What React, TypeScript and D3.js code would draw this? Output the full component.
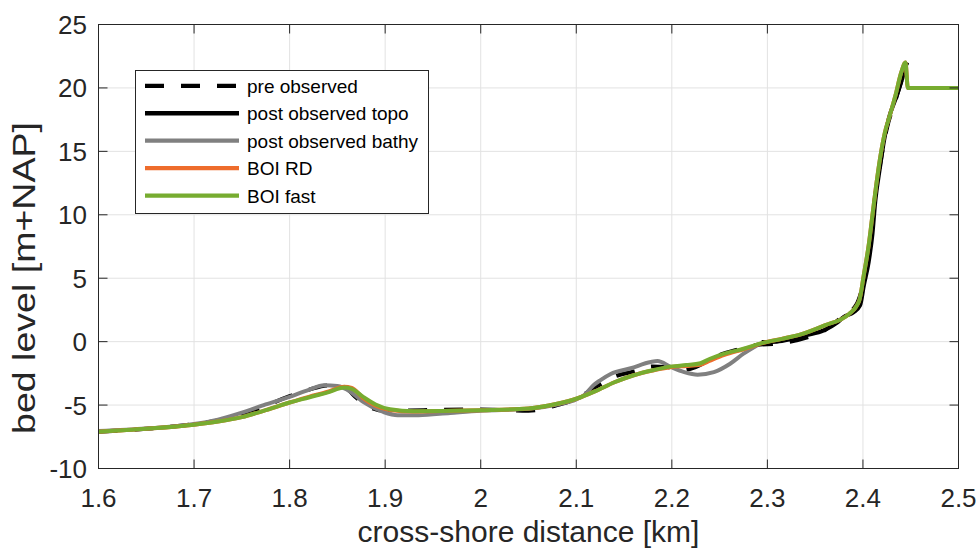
import React from "react";
import * as d3 from "d3";

// ---- data ----
const xTicks = [1.6, 1.7, 1.8, 1.9, 2.0, 2.1, 2.2, 2.3, 2.4, 2.5];
const yTicks = [-10, -5, 0, 5, 10, 15, 20, 25];

const distModel = [1.6, 1.65, 1.7, 1.725, 1.75, 1.775, 1.8, 1.82, 1.84, 1.857, 1.865, 1.877, 1.89, 1.905, 1.93, 1.97, 2.0, 2.05, 2.08, 2.1, 2.12, 2.14, 2.16, 2.18, 2.2, 2.215, 2.23, 2.24, 2.255, 2.275, 2.295, 2.315, 2.335, 2.36, 2.385, 2.396, 2.401, 2.406, 2.41, 2.414, 2.418, 2.423, 2.428, 2.434, 2.44, 2.4445, 2.447, 2.5];
const boiFast = [-7.1, -6.87, -6.55, -6.3, -5.95, -5.4, -4.8, -4.4, -4.0, -3.62, -3.72, -4.36, -4.95, -5.33, -5.48, -5.45, -5.4, -5.27, -4.9, -4.5, -3.9, -3.2, -2.65, -2.25, -1.95, -1.85, -1.7, -1.35, -0.95, -0.56, -0.1, 0.22, 0.57, 1.28, 2.15, 3.2, 5.3, 7.6, 10.0, 12.4, 14.5, 16.5, 17.8, 19.4, 21.2, 22.0, 20.0, 20.0];
const boiRD = [-7.1, -6.87, -6.55, -6.3, -5.95, -5.4, -4.8, -4.35, -3.95, -3.55, -3.65, -4.45, -5.05, -5.38, -5.5, -5.45, -5.4, -5.27, -4.9, -4.5, -3.9, -3.2, -2.65, -2.28, -2.0, -1.92, -1.82, -1.5, -1.05, -0.6, -0.12, 0.22, 0.57, 1.28, 2.15, 3.2, 5.3, 7.6, 10.0, 12.4, 14.5, 16.5, 17.8, 19.4, 21.2, 22.0, 20.0, 20.0];

const distBathy = [1.6, 1.65, 1.7, 1.725, 1.75, 1.775, 1.8, 1.82, 1.836, 1.85, 1.864, 1.877, 1.898, 1.913, 1.935, 1.968, 2.0, 2.05, 2.08, 2.1, 2.108, 2.118, 2.125, 2.136, 2.157, 2.178, 2.185, 2.199, 2.213, 2.227, 2.244, 2.261, 2.275, 2.289];
const postBathy = [-7.05, -6.85, -6.5, -6.15, -5.6, -4.95, -4.35, -3.8, -3.44, -3.5, -3.97, -4.75, -5.54, -5.8, -5.8, -5.62, -5.45, -5.3, -4.95, -4.55, -4.23, -3.44, -3.05, -2.55, -2.1, -1.6, -1.53, -2.0, -2.4, -2.6, -2.4, -1.74, -0.95, -0.3];

const distPre = [1.6, 1.65, 1.7, 1.75, 1.8, 1.82, 1.84, 1.857, 1.868, 1.88, 1.9, 1.94, 2.0, 2.05, 2.08, 2.1, 2.12, 2.14, 2.16, 2.18, 2.195, 2.21, 2.225, 2.245, 2.27, 2.29, 2.31, 2.34, 2.36, 2.38, 2.393, 2.4, 2.406, 2.412, 2.418, 2.425, 2.434, 2.442, 2.446];
const preObserved = [-7.1, -6.87, -6.5, -5.8, -4.3, -3.8, -3.45, -3.55, -4.3, -5.0, -5.45, -5.4, -5.35, -5.45, -5.0, -4.5, -3.6, -2.75, -2.35, -1.95, -2.0, -2.26, -2.0, -1.2, -0.6, -0.25, -0.16, 0.3, 0.9, 2.07, 2.9, 4.5, 7.0, 11.0, 14.0, 16.8, 19.0, 21.0, 22.0];

const distTopo = [2.294, 2.31, 2.325, 2.34, 2.359, 2.373, 2.38, 2.39, 2.397, 2.401, 2.406, 2.41, 2.413, 2.418, 2.422, 2.427, 2.434, 2.441, 2.446];
const postTopo = [-0.03, 0.0, 0.2, 0.5, 0.89, 1.5, 1.95, 2.3, 2.85, 4.43, 6.26, 8.5, 11.1, 13.8, 15.8, 17.6, 19.1, 20.7, 22.0];

const legendLabels = ["pre observed", "post observed topo", "post observed bathy", "BOI RD", "BOI fast"];
const colors = { black: "#000000", gray: "#808080", orange: "#EE6C2C", green: "#77AC30" };

const W = 979;
const H = 552;
const FONT = "Arial, 'Liberation Sans', Helvetica, sans-serif";
const AX = "#262626";

export default function App() {
  const x = d3.scaleLinear().domain([1.6, 2.5]).range([98.5, 958.5]);
  const y = d3.scaleLinear().domain([-10, 25]).range([468.5, 24.5]);

  const mk = (ds: number[], vs: number[]) =>
    d3
      .line<number>()
      .x((_, i) => x(ds[i]))
      .y((v) => y(v))
      .curve(d3.curveMonotoneX)(vs) || "";

  const series = [
    { d: mk(distPre, preObserved), color: colors.black, dash: "19 17" },
    { d: mk(distTopo, postTopo), color: colors.black, dash: undefined },
    { d: mk(distBathy, postBathy), color: colors.gray, dash: undefined },
    { d: mk(distModel, boiRD), color: colors.orange, dash: undefined },
    { d: mk(distModel, boiFast), color: colors.green, dash: undefined },
  ];

  const [x0, x1] = x.range();
  const [yb, yt] = y.range();
  const tickLen = 9;

  const legendRowY = (i: number) => 85.8 + 27.45 * i;

  return (
    <svg width={W} height={H} style={{ position: "absolute", left: 0, top: 0, background: "#fff" }} fontFamily={FONT}>
      <defs>
        <clipPath id="plotClip">
          <rect x={x0} y={yt - 4} width={x1 - x0} height={yb - yt + 4} />
        </clipPath>
      </defs>
      <rect x={0} y={0} width={W} height={H} fill="#fff" />
      {/* grid */}
      {xTicks.map((t) => (
        <line key={"gx" + t} x1={x(t)} x2={x(t)} y1={yt} y2={yb} stroke="#e2e2e2" strokeWidth={1} />
      ))}
      {yTicks.map((t) => (
        <line key={"gy" + t} x1={x0} x2={x1} y1={y(t)} y2={y(t)} stroke="#e2e2e2" strokeWidth={1} />
      ))}
      {/* series */}
      <g clipPath="url(#plotClip)" fill="none">
        {series.map((s, i) => (
          <path key={i} d={s.d} stroke={s.color} strokeWidth={4} strokeDasharray={s.dash} strokeLinejoin="round" />
        ))}
      </g>
      {/* axes box & ticks */}
      <rect x={x0} y={yt} width={x1 - x0} height={yb - yt} fill="none" stroke={AX} strokeWidth={1} />
      {xTicks.map((t) => (
        <g key={"tx" + t}>
          <line x1={x(t)} x2={x(t)} y1={yb} y2={yb - tickLen} stroke={AX} />
          <line x1={x(t)} x2={x(t)} y1={yt} y2={yt + tickLen} stroke={AX} />
          <text x={x(t)} y={506.5} textAnchor="middle" fontSize={26} fill={AX}>
            {d3.format("~g")(t)}
          </text>
        </g>
      ))}
      {yTicks.map((t) => (
        <g key={"ty" + t}>
          <line x1={x0} x2={x0 + tickLen} y1={y(t)} y2={y(t)} stroke={AX} />
          <line x1={x1} x2={x1 - tickLen} y1={y(t)} y2={y(t)} stroke={AX} />
          <text x={87} y={y(t) + 9.5} textAnchor="end" fontSize={26} fill={AX}>
            {t}
          </text>
        </g>
      ))}
      {/* axis labels */}
      <text x={(x0 + x1) / 2} y={542} textAnchor="middle" fontSize={30} fill={AX}>
        cross-shore distance [km]
      </text>
      <text
        transform={`translate(35,278) rotate(-90)`}
        textAnchor="middle"
        fontSize={31}
        fill={AX}
        textLength={312}
        lengthAdjust="spacingAndGlyphs"
      >
        bed level [m+NAP]
      </text>
      {/* legend */}
      <rect x={135.5} y={70.5} width={293} height={143} fill="#fff" stroke={AX} strokeWidth={1} />
      {legendLabels.map((lab, i) => {
        const s = series[i];
        const ly = legendRowY(i);
        return (
          <g key={lab}>
            <line x1={145} x2={239} y1={ly} y2={ly} stroke={s.color} strokeWidth={4.3} strokeDasharray={s.dash} />
            <text x={247} y={ly + 7} fontSize={19} fill="#000">
              {lab}
            </text>
          </g>
        );
      })}
    </svg>
  );
}
